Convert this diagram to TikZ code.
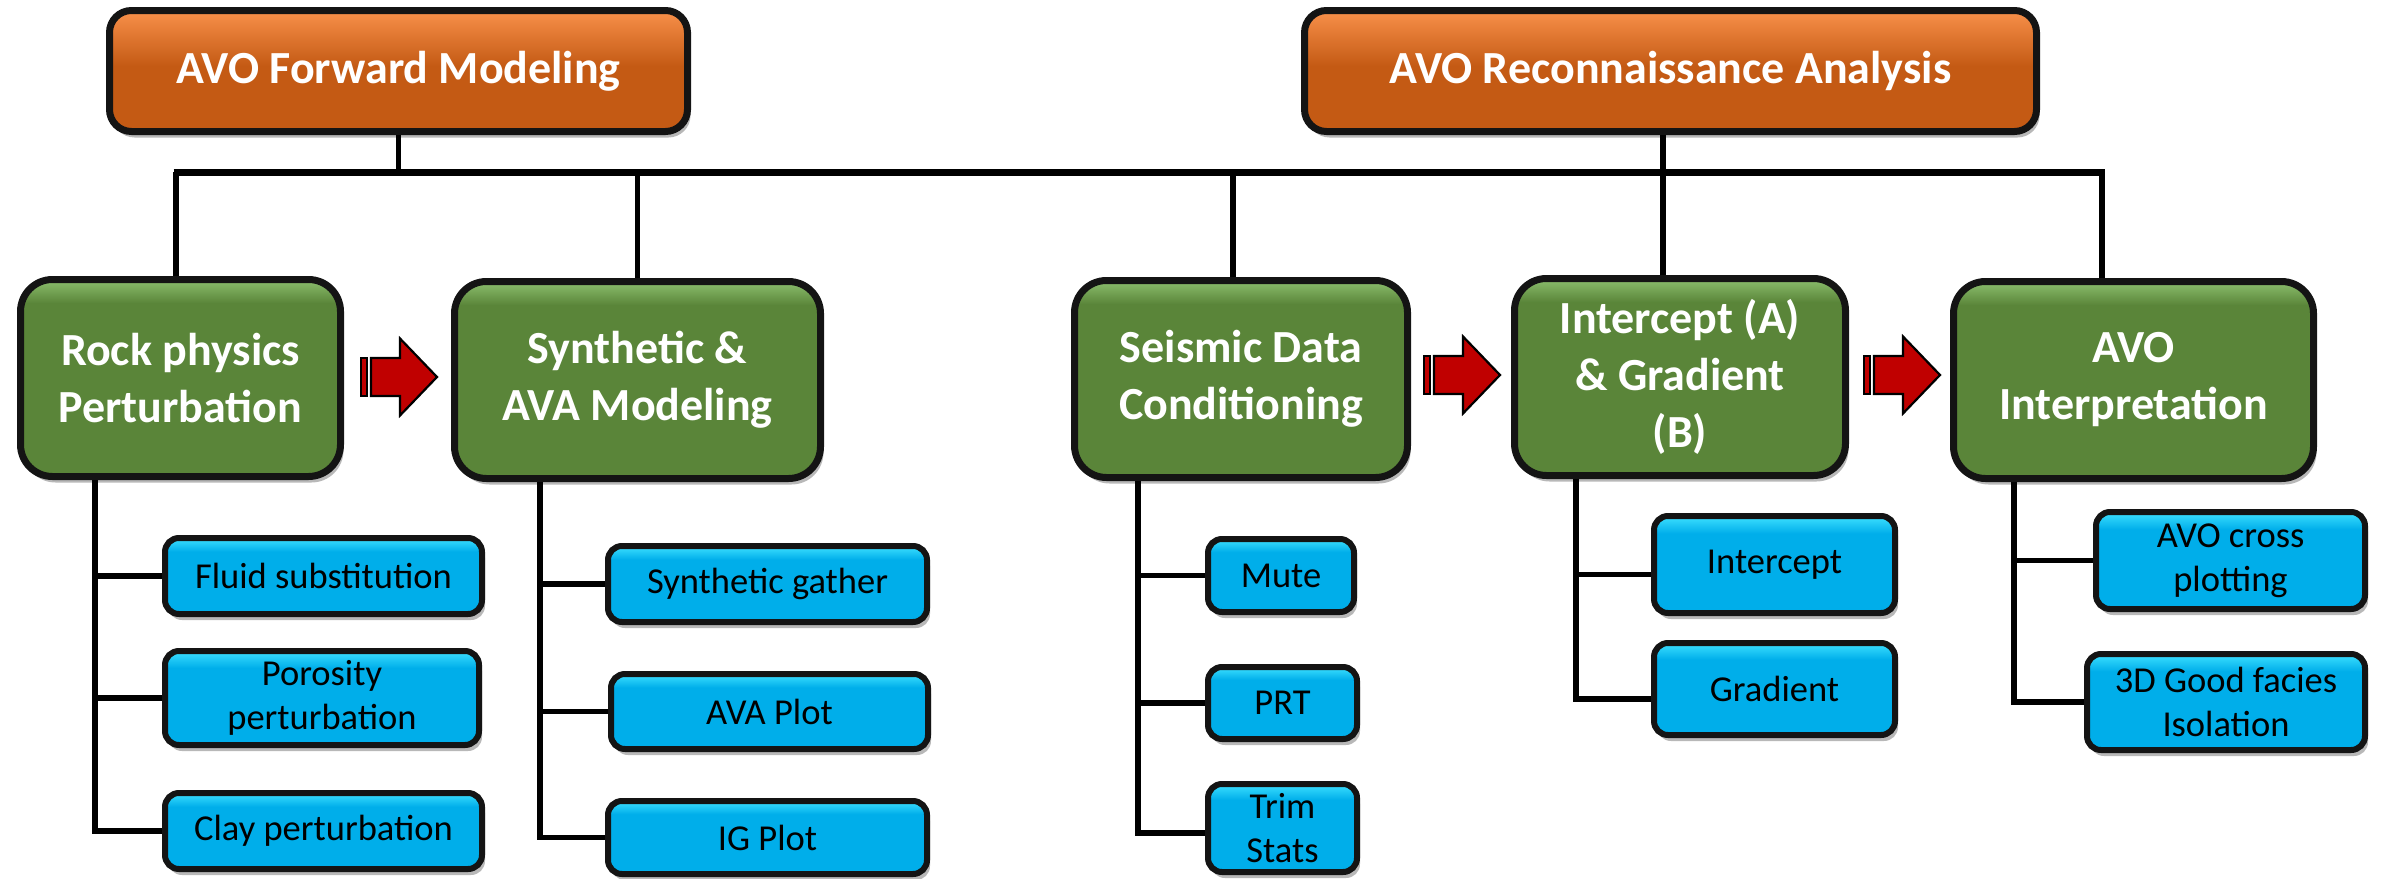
\documentclass[tikz,border=0pt]{standalone}
\usepackage{fontspec}
\setmainfont{Carlito}
\usetikzlibrary{shadows,calc}
\definecolor{gtop}{HTML}{8CBF6E}
\definecolor{gmain}{HTML}{5A8539}
\definecolor{otop}{HTML}{F8904A}
\definecolor{omain}{HTML}{C45A14}
\definecolor{btop}{HTML}{3DE0FF}
\definecolor{bmain}{HTML}{00AEEA}
\definecolor{arrred}{HTML}{C00000}
\definecolor{edge}{HTML}{141414}
\pgfdeclareverticalshading{greensh}{100bp}{color(0bp)=(gmain); color(69bp)=(gmain); color(75bp)=(gtop); color(100bp)=(gtop)}
\pgfdeclareverticalshading{orangesh}{100bp}{color(0bp)=(omain); color(52bp)=(omain); color(75bp)=(otop); color(100bp)=(otop)}
\pgfdeclareverticalshading{bluesh}{100bp}{color(0bp)=(bmain); color(66bp)=(bmain); color(75bp)=(btop); color(100bp)=(btop)}
\tikzset{
  boxshadow/.style={drop shadow={shadow xshift=3pt,shadow yshift=-6pt,opacity=0.28,fill=black}},
  headbox/.style={draw=edge,line width=7pt,rounded corners=22pt,shading=orangesh,boxshadow,
    text=white,font=\fontsize{46}{56}\selectfont\bfseries,align=center,inner sep=0pt},
  greenbox/.style={draw=edge,line width=7pt,rounded corners=32pt,shading=greensh,boxshadow,
    text=white,font=\fontsize{46}{57}\selectfont\bfseries,align=center,inner sep=0pt,minimum height=197pt},
  bluebox/.style={draw=edge,line width=6pt,rounded corners=14pt,shading=bluesh,boxshadow,
    text=black,font=\fontsize{36.5}{44}\selectfont,align=center,inner sep=0pt},
  conn/.style={draw=black,line width=5.5pt},
  barline/.style={draw=black,line width=7pt},
  redarrow/.pic={
    \filldraw[fill=arrred,draw=black,line width=2.2pt] (0,-19) rectangle (6,19);
    \filldraw[fill=arrred,draw=black,line width=2.2pt,line join=miter]
      (10,-19) -- (39,-19) -- (39,-38.5) -- (76,0) -- (39,38.5) -- (39,19) -- (10,19) -- cycle;
  }
}
\begin{document}
\begin{tikzpicture}[x=1pt,y=-1pt]
\useasboundingbox (0,0) rectangle (2382,878);
% headers
\node[headbox,minimum width=578pt,minimum height=121pt] (h1) at (398.5,71) {AVO Forward Modeling};
\node[headbox,minimum width=732pt,minimum height=121pt] (h2) at (1670.5,71) {AVO Reconnaissance Analysis};
% green boxes
\node[greenbox,minimum width=320pt] (rock) at (180.5,378) {Rock physics\\Perturbation};
\node[greenbox,minimum width=366pt] (syn) at (637.5,380) {Synthetic \&\\AVA Modeling};
\node[greenbox,minimum width=333pt] (seis) at (1241,379) {Seismic Data\\Conditioning};
\node[greenbox,minimum width=331pt] (int) at (1680,377) {Intercept (A)\\\& Gradient\\(B)};
\node[greenbox,minimum width=360pt] (avoi) at (2133.5,380) {AVO\\Interpretation};
% blue boxes
\node[bluebox,minimum width=317pt,minimum height=76pt] (fluid) at (323.5,576) {Fluid substitution};
\node[bluebox,minimum width=314pt,minimum height=94pt] (poro) at (322,698) {Porosity\\perturbation};
\node[bluebox,minimum width=317pt,minimum height=76pt] (clay) at (323.5,831) {Clay perturbation};
\node[bluebox,minimum width=319pt,minimum height=76pt] (sgath) at (767.5,584) {Synthetic gather};
\node[bluebox,minimum width=317pt,minimum height=75pt] (ava) at (769.5,711.5) {AVA Plot};
\node[bluebox,minimum width=319pt,minimum height=73pt] (ig) at (767.5,837.5) {IG Plot};
\node[bluebox,minimum width=146pt,minimum height=73pt] (mute) at (1281,575.5) {Mute};
\node[bluebox,minimum width=149pt,minimum height=72pt] (prt) at (1282.5,703) {PRT};
\node[bluebox,minimum width=149pt,minimum height=88pt] (trim) at (1282.5,828) {Trim\\Stats};
\node[bluebox,minimum width=241pt,minimum height=97pt] (icpt) at (1774.5,564.5) {Intercept};
\node[bluebox,minimum width=241pt,minimum height=92pt] (grad) at (1774.5,689) {Gradient};
\node[bluebox,minimum width=269pt,minimum height=97pt] (cross) at (2230.5,560.5) {AVO cross\\plotting};
\node[bluebox,minimum width=278pt,minimum height=96pt] (good) at (2226,702) {3D Good facies\\Isolation};
% top connectors
\coordinate (bl) at (176,172);
\coordinate (br) at (2102,172);
\draw[conn] (h1.south) -- (h1.south |- bl);
\draw[conn] ([xshift=-7.5pt]h2.south) -- ([xshift=-7.5pt]h2.south |- int.north);
\draw[barline] ([xshift=-2.5pt]bl) -- ([xshift=2.5pt]br);
\draw[conn] (bl) -- (bl |- rock.north);
\draw[conn] (syn.north |- bl) -- (syn.north);
\draw[conn] ([xshift=-8pt]seis.north |- bl) -- ([xshift=-8pt]seis.north);
\draw[conn] (br) -- (br |- avoi.north);
% sub-trees
\coordinate (t1) at ([xshift=-85.5pt]rock.south);
\draw[conn] (t1) |- (clay.west);
\draw[conn] (t1 |- fluid.west) -- (fluid.west);
\draw[conn] (t1 |- poro.west) -- (poro.west);
\coordinate (t2) at ([xshift=-97.5pt]syn.south);
\draw[conn] (t2) |- (ig.west);
\draw[conn] (t2 |- sgath.west) -- (sgath.west);
\draw[conn] (t2 |- ava.west) -- (ava.west);
\coordinate (t3) at ([xshift=-103pt]seis.south);
\coordinate (trimw) at ([yshift=-5pt]trim.west);
\draw[conn] (t3) |- (trimw);
\draw[conn] (t3 |- mute.west) -- (mute.west);
\draw[conn] (t3 |- prt.west) -- (prt.west);
\coordinate (t4) at ([xshift=-104pt]int.south);
\coordinate (icptw) at ([yshift=-10pt]icpt.west);
\coordinate (gradw) at ([yshift=-10pt]grad.west);
\draw[conn] (t4) |- (gradw);
\draw[conn] (t4 |- icptw) -- (icptw);
\coordinate (t5) at ([xshift=-119.5pt]avoi.south);
\draw[conn] (t5) |- (good.west);
\draw[conn] (t5 |- cross.west) -- (cross.west);
% process arrows
\pic at (361,377) {redarrow};
\pic at (1424,375) {redarrow};
\pic at (1864,375) {redarrow};
\end{tikzpicture}
\end{document}
